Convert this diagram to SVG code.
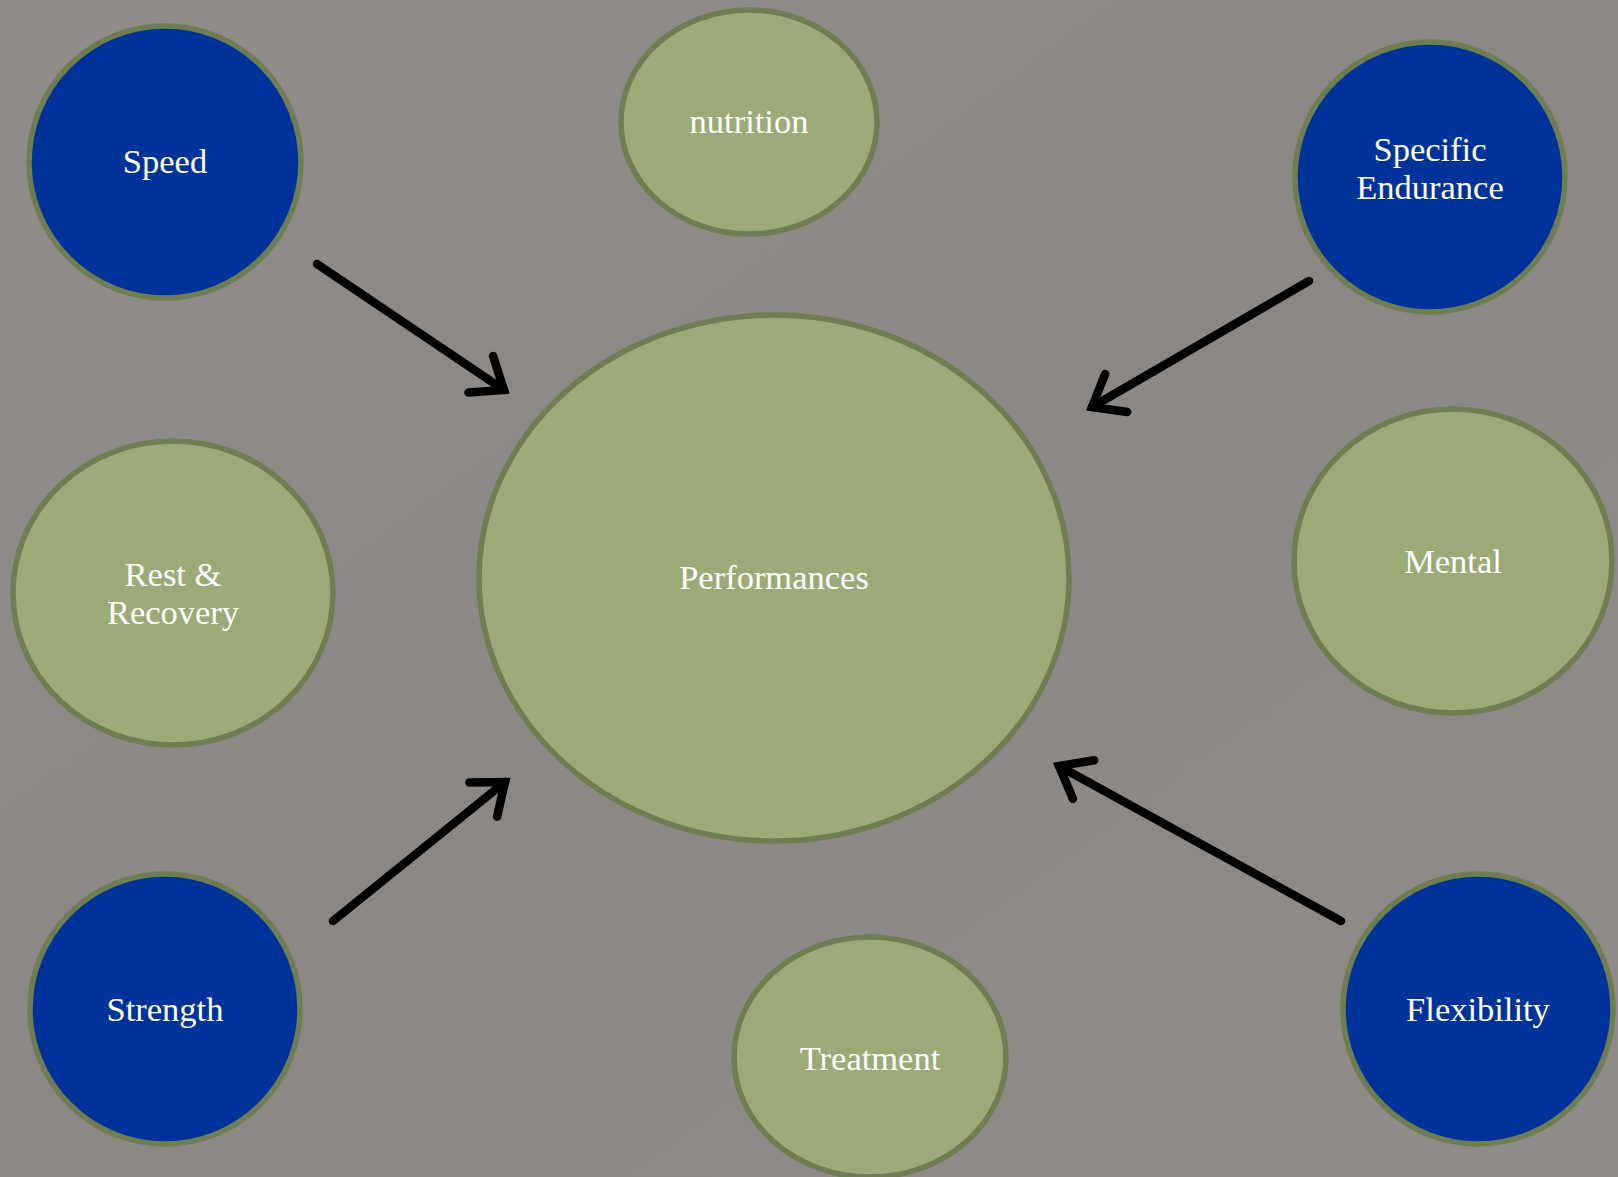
<svg xmlns="http://www.w3.org/2000/svg" width="1618" height="1177" viewBox="0 0 1618 1177">
<style>
.blue{fill:#003399;stroke:#6f7d52;stroke-width:5.5}
.green{fill:#9caa78;stroke:#6f7d52;stroke-width:5.5}
text{font-family:"Liberation Serif","DejaVu Serif",serif;font-size:34.5px;fill:#ffffff;text-anchor:middle}
.conn{stroke:#000;stroke-width:8.5;fill:none;stroke-linecap:round}
</style>
<defs>
<marker id="arr" markerUnits="userSpaceOnUse" viewBox="-40 -30 50 60" refX="0" refY="0" markerWidth="50" markerHeight="60" orient="auto">
<path d="M-28,-22 L0,0 L-28,22" fill="none" stroke="#000" stroke-width="8.5" stroke-linecap="round" stroke-linejoin="miter"/>
</marker>
<linearGradient id="bg" x1="0" y1="0" x2="1" y2="1">
<stop offset="0" stop-color="#908c8a"/>
<stop offset="0.5" stop-color="#8b8785"/>
<stop offset="1" stop-color="#8f8b89"/>
</linearGradient>
</defs>
<rect x="0" y="0" width="1618" height="1177" fill="url(#bg)"/>
<g id="connectors">
<line class="conn" x1="317" y1="264" x2="504" y2="390" marker-end="url(#arr)"/>
<line class="conn" x1="1309" y1="281" x2="1092" y2="407" marker-end="url(#arr)"/>
<line class="conn" x1="333" y1="921" x2="505" y2="782" marker-end="url(#arr)"/>
<line class="conn" x1="1341" y1="921" x2="1059" y2="766" marker-end="url(#arr)"/>
</g>
<g id="performances"><ellipse class="green" cx="774" cy="578" rx="295" ry="263"/><text x="774" y="589">Performances</text></g>
<g id="speed"><ellipse class="blue" cx="165" cy="162" rx="136" ry="136"/><text x="165" y="173">Speed</text></g>
<g id="nutrition"><ellipse class="green" cx="749" cy="122" rx="128" ry="112"/><text x="749" y="133">nutrition</text></g>
<g id="specific-endurance"><ellipse class="blue" cx="1430" cy="177" rx="135" ry="135"/><text x="1430" y="161">Specific</text><text x="1430" y="199">Endurance</text></g>
<g id="rest-recovery"><ellipse class="green" cx="173" cy="593" rx="160" ry="152"/><text x="173" y="586">Rest &amp;</text><text x="173" y="624">Recovery</text></g>
<g id="mental"><ellipse class="green" cx="1453" cy="561" rx="159" ry="152"/><text x="1453" y="573">Mental</text></g>
<g id="strength"><ellipse class="blue" cx="165" cy="1009" rx="135" ry="135"/><text x="165" y="1021">Strength</text></g>
<g id="treatment"><ellipse class="green" cx="870" cy="1057" rx="136" ry="120"/><text x="870" y="1070">Treatment</text></g>
<g id="flexibility"><ellipse class="blue" cx="1478" cy="1009" rx="135" ry="135"/><text x="1478" y="1021">Flexibility</text></g>
</svg>
